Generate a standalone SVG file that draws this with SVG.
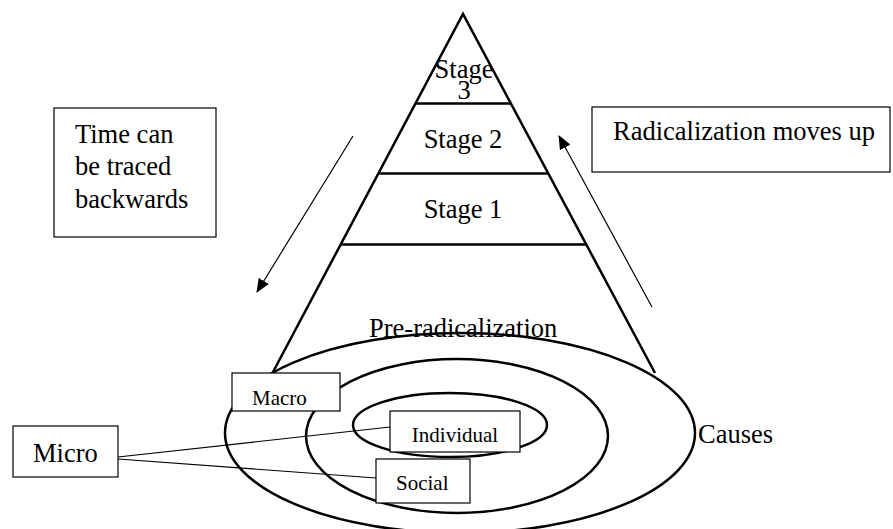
<svg xmlns="http://www.w3.org/2000/svg" width="893" height="529" viewBox="0 0 893 529">
<style>
.thick{fill:none;stroke:#000;stroke-width:2.5}
.box{fill:#fff;stroke:#000;stroke-width:1.2}
.ln{fill:none;stroke:#000;stroke-width:1.2}
.big{font-family:"Liberation Serif","Times New Roman",serif;font-size:26.5px;fill:#000}
.sm{font-family:"Liberation Serif","Times New Roman",serif;font-size:21px;fill:#000}
</style>
<defs>
<marker id="ah" markerWidth="14" markerHeight="12" refX="13" refY="6" orient="auto" markerUnits="userSpaceOnUse">
<path d="M0,0 L14,6 L0,12 Z" fill="#000"/>
</marker>
</defs>
<rect width="893" height="529" fill="#fff"/>
<g id="pyramid">
<path class="thick" d="M273,372 L463,14 L655,373"/>
<line class="thick" x1="416" y1="103.5" x2="510" y2="103.5"/>
<line class="thick" x1="379" y1="173.5" x2="548" y2="173.5"/>
<line class="thick" x1="341" y1="244.5" x2="587" y2="244.5"/>
<text class="big" x="464" y="78" text-anchor="middle">Stage</text>
<text class="big" x="464" y="99" text-anchor="middle">3</text>
<text class="big" x="463" y="148" text-anchor="middle">Stage 2</text>
<text class="big" x="463" y="218" text-anchor="middle">Stage 1</text>
</g>
<g id="causes">
<ellipse class="thick" cx="460" cy="433" rx="235" ry="100"/>
<ellipse class="thick" cx="457" cy="436" rx="151" ry="77"/>
<ellipse class="thick" cx="450" cy="425" rx="97" ry="32"/>
<text class="big" x="369" y="337">Pre-radicalization</text>
<text class="big" x="698" y="443">Causes</text>
</g>
<g id="connectors">
<line class="ln" x1="353" y1="136" x2="257" y2="292" marker-end="url(#ah)"/>
<line class="ln" x1="652" y1="307" x2="559" y2="136" marker-end="url(#ah)"/>
<line class="ln" x1="118" y1="457" x2="390" y2="427"/>
<line class="ln" x1="118" y1="459" x2="376" y2="478"/>
</g>
<g id="time">
<rect class="box" x="54" y="108" width="162" height="129"/>
<text class="big" x="75" y="143">Time can</text>
<text class="big" x="75" y="175">be traced</text>
<text class="big" x="75" y="208">backwards</text>
</g>
<g id="radicalization">
<rect class="box" x="592" y="107" width="298" height="65"/>
<text class="big" x="613" y="140">Radicalization moves up</text>
</g>
<g id="macro">
<rect class="box" x="232" y="373" width="108" height="38"/>
<text class="sm" x="252" y="405">Macro</text>
</g>
<g id="micro">
<rect class="box" x="13" y="426" width="105" height="51"/>
<text class="big" x="33" y="462">Micro</text>
</g>
<g id="individual">
<rect class="box" x="390" y="411" width="130" height="41"/>
<text class="sm" x="455" y="442" text-anchor="middle">Individual</text>
</g>
<g id="social">
<rect class="box" x="376" y="459" width="94" height="44"/>
<text class="sm" x="396" y="490">Social</text>
</g>
</svg>
